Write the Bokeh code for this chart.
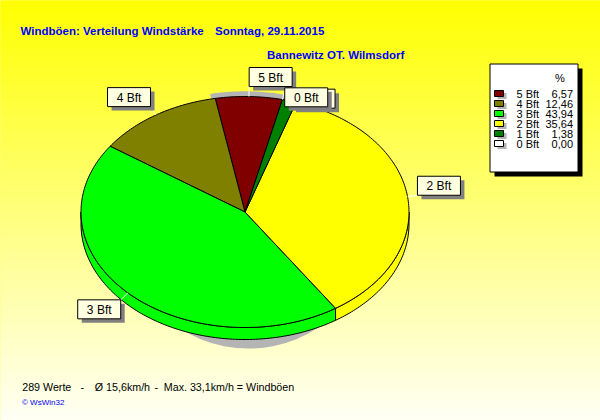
import numpy as np
from bokeh.plotting import figure
from bokeh.models import Range1d
from bokeh.core.properties import value
from bokeh.embed import file_html
from bokeh.resources import INLINE

# Share of gust readings per Beaufort class, in percent
labels = ["5 Bft", "4 Bft", "3 Bft", "2 Bft", "1 Bft", "0 Bft"]
percent = [6.57, 12.46, 43.94, 35.64, 1.38, 0.00]
colors = ["#800000", "#808000", "#00FF00", "#FFFF00", "#008000", "#FFFFFF"]

title_parts = ["Windböen: Verteilung Windstärke", "Sonntag, 29.11.2015"]
station = "Bannewitz OT. Wilmsdorf"
footer_parts = ["289 Werte", "-", "Ø 15,6km/h", "-", "Max. 33,1km/h = Windböen"]
credit = "© WsWin32"
legend_header = "%"

W, H = 600, 420
FONT = value("Liberation Sans")

# tilted pie geometry (screen pixels)
CX, CY, RX, RY, DEPTH = 244.5, 211.5, 164.0, 115.5, 12.0
START = 13.2          # clockwise from 12 o'clock, where "0 Bft" begins
LABEL_GAP = 10.0
BOX_W, BOX_H = 43.0, 19.0

# x offsets of the heading and footer pieces
TITLE_X = [20, 214.5]
FOOTER_X = [21.7, 80, 94.3, 154, 163.3]


def ell(t_deg, rx=RX, ry=RY):
    t = np.radians(t_deg)
    return CX + rx * np.sin(t), CY - ry * np.cos(t)


p = figure(width=W, height=H, x_range=Range1d(0, W), y_range=Range1d(H, 0),
           x_axis_type=None, y_axis_type=None, toolbar_location=None,
           output_backend="svg", min_border=0, outline_line_color=None)
p.grid.visible = False
p.background_fill_color = "#FFFF00"
p.border_fill_color = "#FFFF00"

# vertical yellow -> pale background gradient
band = 5
tops = np.arange(0, H, band)
shades = ["#FFFF%02X" % int(round(245 * (y + band / 2) / H)) for y in tops]
p.quad(left=0, right=W, top=tops, bottom=tops + band,
       fill_color=shades, line_color=shades, line_width=1)

# slice spans, clockwise from START in order 0 Bft .. 5 Bft
total = sum(percent)
spans = {}
a = START
for lab, pct in zip(labels[::-1], percent[::-1]):
    sweep = 360.0 * pct / total
    spans[lab] = (a, a + sweep)
    a += sweep

# drop shadow below the pie
p.ellipse(x=CX + 3.5, y=225, width=250, height=246,
          fill_color="#B4B4B4", line_color=None)

# light halo behind the top slice
a0, a1 = spans["5 Bft"]
t = np.linspace(a0 - 1.5, a1 + 1.5, 40)
hx, hy = ell(t, RX * 1.03, RY * 1.045)
p.patch(x=[CX] + list(hx), y=[CY] + list(hy), fill_color="#B4B4B4", line_color=None)

# side walls of the front half
side_x, side_y, side_c = [], [], []
for lab, col in zip(labels, colors):
    a0, a1 = spans[lab]
    for off in (0.0, 360.0):
        lo, hi = max(a0, 90 + off), min(a1, 270 + off)
        if hi > lo:
            t = np.linspace(lo, hi, int(hi - lo) + 2)
            x, y = ell(t)
            side_x.append(list(x) + list(x[::-1]))
            side_y.append(list(y) + list(y[::-1] + DEPTH))
            side_c.append(col)
p.patches(xs=side_x, ys=side_y, fill_color=side_c, line_color="black", line_width=1)

# top faces
top_x, top_y, top_c = [], [], []
for lab, col in zip(labels, colors):
    a0, a1 = spans[lab]
    if a1 - a0 <= 0:
        continue
    t = np.linspace(a0, a1, int(a1 - a0) + 2)
    x, y = ell(t)
    top_x.append([CX] + list(x))
    top_y.append([CY] + list(y))
    top_c.append(col)
p.patches(xs=top_x, ys=top_y, fill_color=top_c, line_color="black", line_width=1)

# slice labels in boxes with leader lines
boxes = []


def hits(l, tp):
    for _, bl, bt, *_r in boxes:
        if l < bl + BOX_W + 2 and l + BOX_W + 2 > bl and tp < bt + BOX_H and tp + BOX_H > bt:
            return True
    return False


for lab in labels:
    a0, a1 = spans[lab]
    m = (a0 + a1) / 2
    rx_, ry_ = ell(m)
    ax, ay = ell(m, RX + LABEL_GAP, RY + LABEL_GAP)
    s, c = np.sin(np.radians(m)), np.cos(np.radians(m))
    left = ax if s >= 0 else ax - BOX_W
    top = ay - BOX_H if c > 0 else ay
    if hits(left, top):
        top = ay - 2 if c > 0 else ay - BOX_H
    boxes.append((lab, left, top, rx_, ry_, ax, ay))

p.segment(x0=[b[3] for b in boxes], y0=[b[4] for b in boxes],
          x1=[b[5] for b in boxes], y1=[b[6] for b in boxes],
          line_color="white", line_width=1)

for lab, left, top, *_ in boxes:
    p.quad(left=left + 4, right=left + BOX_W + 4, top=top + 4, bottom=top + BOX_H + 4,
           fill_color="#808080", line_color=None)
    p.quad(left=left, right=left + BOX_W, top=top, bottom=top + BOX_H,
           fill_color="#FFFFE1", line_color="black", line_width=1)
    p.text(x=[left + BOX_W / 2], y=[top + BOX_H / 2 + 0.5], text=[lab],
           text_font=FONT, text_font_size=value("12px"), text_color="black",
           text_align="center", text_baseline="middle")

# legend
LX0, LX1, LY0, LY1 = 489.5, 577.5, 63.5, 171.5
p.quad(left=LX0 + 4.5, right=LX1 + 4.5, top=LY0 + 4.5, bottom=LY1 + 4.5,
       fill_color="black", line_color=None)
p.quad(left=LX0, right=LX1, top=LY0, bottom=LY1,
       fill_color="white", line_color="black", line_width=1)
p.text(x=[559.5], y=[77], text=[legend_header], text_font=FONT,
       text_font_size=value("11px"), text_color="black",
       text_align="center", text_baseline="middle")
rows = [93.5 + 10 * i for i in range(len(labels))]
p.quad(left=497, right=506, top=[r - 1 for r in rows], bottom=[r + 5 for r in rows],
       fill_color="#B4B4B4", line_color=None)
p.quad(left=494, right=503, top=[r - 3.5 for r in rows], bottom=[r + 2.5 for r in rows],
       fill_color=colors, line_color="black", line_width=1)
p.text(x=[516] * len(labels), y=rows, text=labels, text_font=FONT,
       text_font_size=value("11px"), text_color="black",
       text_align="left", text_baseline="middle")
p.text(x=[572.5] * len(labels), y=rows,
       text=[f"{v:.2f}".replace(".", ",") for v in percent], text_font=FONT,
       text_font_size=value("11px"), text_color="black",
       text_align="right", text_baseline="middle")

# headings and footer
p.text(x=TITLE_X, y=[30.5] * len(title_parts), text=title_parts, text_font=FONT,
       text_font_size=value("11.5px"), text_font_style="bold", text_color="#0000FF",
       text_baseline="alphabetic")
p.text(x=[266.5], y=[54], text=[station], text_font=FONT, text_font_size=value("11.5px"),
       text_font_style="bold", text_color="#0000FF", text_baseline="alphabetic")
p.text(x=FOOTER_X, y=[386.5] * len(footer_parts), text=footer_parts, text_font=FONT,
       text_font_size=value("10.7px"), text_color="black", text_baseline="alphabetic")
p.text(x=[21.5], y=[402], text=[credit], text_font=FONT, text_font_size=value("8px"),
       text_color="#0000FF", text_baseline="alphabetic")

open("out.html", "w").write(file_html(p, INLINE))
